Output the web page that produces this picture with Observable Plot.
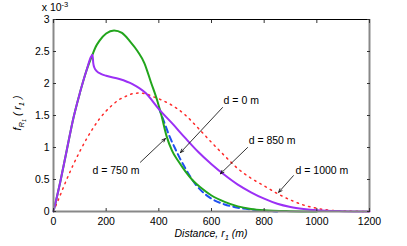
<!DOCTYPE html>
<html><head><meta charset="utf-8">
<script src="https://cdn.jsdelivr.net/npm/d3@7"></script>
<script src="https://cdn.jsdelivr.net/npm/@observablehq/plot@0.6"></script>
<style>body{margin:0;background:#fff}#chart{width:407px;height:246px}</style>
</head><body><div id="chart"></div>
<script>
// values in units of 1e-3
const rD850 = [0,25,50,75,100,125,148,151,155,165,180,200,250,300,350,400,450,500,550,600,650,700,750,800,850,900,950,1000,1100,1200];
const fD850 = [0,0.45,0.95,1.45,1.85,2.2,2.45,2.32,2.25,2.19,2.15,2.12,2.07,1.99,1.85,1.6,1.38,1.15,0.93,0.74,0.57,0.42,0.3,0.2,0.12,0.07,0.04,0.02,0.005,0];
const rD750 = [0,25,50,75,100,125,148,160,175,200,230,260,290,320,345,370,395,410,430,450,475,500,530,560,600,650,700,750,800,900,1000];
const fD750 = [0,0.45,0.95,1.45,1.85,2.2,2.45,2.57,2.67,2.78,2.83,2.79,2.66,2.5,2.32,2.02,1.72,1.5,1.17,0.95,0.78,0.63,0.48,0.37,0.25,0.15,0.08,0.04,0.02,0.005,0];
const rD0 = [400,420,440,460,480,500,520,540,560,600,650,700,750,800,850];
const fD0 = [1.62,1.4,1.18,1.0,0.83,0.68,0.54,0.42,0.33,0.2,0.11,0.06,0.03,0.01,0];
const rD1000 = [0,25,50,75,100,125,150,175,200,225,250,275,300,325,350,375,400,450,500,550,600,650,700,750,800,850,900,950,1000,1050,1100,1150,1200];
const fD1000 = [0,0.25,0.5,0.73,0.94,1.13,1.3,1.45,1.57,1.67,1.75,1.8,1.84,1.85,1.84,1.8,1.76,1.66,1.51,1.3,1.08,0.87,0.67,0.52,0.4,0.28,0.18,0.1,0.05,0.02,0.01,0.003,0];

const xTicks = [0,200,400,600,800,1000,1200];
const yTicks = [0,0.5,1,1.5,2,2.5,3];

const annLabels = ["d = 0 m","d = 750 m","d = 850 m","d = 1000 m"];
const annTextX = [646,148,741,919];
const annTextY = [1.73,0.64,1.11,0.64];
const annFromX = [642,330,737,911];
const annFromY = [1.625,0.77,1.0,0.56];
const annToX = [482,425,634,855];
const annToY = [0.92,1.14,0.59,0.30];

const toRows = (rs, fs) => rs.map((r, i) => ({r, f: fs[i]}));
const d850 = toRows(rD850, fD850), d750 = toRows(rD750, fD750), d0 = toRows(rD0, fD0), d1000 = toRows(rD1000, fD1000);
const ann = annLabels.map((t, i) => ({t, tx: annTextX[i], ty: annTextY[i], x1: annFromX[i], y1: annFromY[i], x2: annToX[i], y2: annToY[i]}));

const fmt = d => String(d);
const plot = Plot.plot({
  width: 407, height: 246,
  marginLeft: 53, marginRight: 38, marginTop: 19, marginBottom: 35,
  style: {fontFamily: "'Liberation Sans', Arial, sans-serif", fontSize: "10.5px", background: "#fff", color: "#000"},
  x: {domain: [0, 1200]},
  y: {domain: [0, 3]},
  marks: [
    Plot.line(d1000, {x: "r", y: "f", stroke: "#ff2a2a", strokeWidth: 1.5, strokeDasharray: "1.5,4.5", curve: "monotone-x"}),
    Plot.line(d0, {x: "r", y: "f", stroke: "#2050f0", strokeWidth: 2, strokeDasharray: "6,4", curve: "monotone-x"}),
    Plot.line(d750, {x: "r", y: "f", stroke: "#22a51c", strokeWidth: 2, curve: "monotone-x"}),
    Plot.line(d850, {x: "r", y: "f", stroke: "#9b30f5", strokeWidth: 2, curve: "monotone-x"}),
    Plot.ruleY([0], {stroke: "#888", strokeWidth: 2}),
    Plot.ruleX([0], {stroke: "#888", strokeWidth: 2}),
    Plot.ruleX([1200], {stroke: "#888", strokeWidth: 2}),
    Plot.ruleY([3], {stroke: "#000", strokeWidth: 1}),
    Plot.axisX(xTicks, {anchor: "bottom", tickSize: 3, dy: -3, tickFormat: () => "", label: null, stroke: "#333"}),
    Plot.axisX(xTicks, {anchor: "top", tickSize: 3, dy: 3, tickFormat: () => "", label: null, stroke: "#333"}),
    Plot.axisY(yTicks, {anchor: "left", tickSize: 3, dx: 3, tickFormat: () => "", label: null, stroke: "#333"}),
    Plot.axisY(yTicks, {anchor: "right", tickSize: 3, dx: -3, tickFormat: () => "", label: null, stroke: "#333"}),
    Plot.axisX(xTicks, {anchor: "bottom", tickSize: 0, tickPadding: 6, tickFormat: fmt, label: null, fill: "#000"}),
    Plot.axisY(yTicks, {anchor: "left", tickSize: 0, tickPadding: 4, tickFormat: fmt, label: null, fill: "#000"}),
    Plot.arrow(ann, {x1: "x1", y1: "y1", x2: "x2", y2: "y2", stroke: "#000", strokeWidth: 0.8, headLength: 7, headAngle: 45}),
    Plot.text(ann, {x: "tx", y: "ty", text: "t", textAnchor: "start", fill: "#000", fontSize: 10.5})
  ]
});
document.getElementById("chart").appendChild(plot);

const svg = d3.select(plot);
const ff = "'Liberation Sans', Arial, sans-serif";
// multiplier
const mt = svg.append("text").attr("x", 55).attr("y", 11).attr("font-family", ff).attr("font-size", 10.5).attr("fill", "#000");
mt.append("tspan").text("x 10");
mt.append("tspan").attr("font-size", 7.5).attr("dy", -4).text("-3");
// x label
const xl = svg.append("text").attr("x", 211).attr("y", 237).attr("text-anchor", "middle").attr("font-family", ff).attr("font-size", 10.5).attr("font-style", "italic").attr("fill", "#000");
xl.append("tspan").text("Distance, r");
xl.append("tspan").attr("font-size", 7.5).attr("dy", 3).text("1");
xl.append("tspan").attr("dy", -3).text(" (m)");
// y label
const yl = svg.append("text").attr("transform", "translate(21,113) rotate(-90)").attr("text-anchor", "middle").attr("font-family", ff).attr("font-size", 10.5).attr("font-style", "italic").attr("fill", "#000");
yl.append("tspan").text("f");
yl.append("tspan").attr("font-size", 7.5).attr("dy", 3).text("R");
yl.append("tspan").attr("font-size", 5.5).attr("dy", 2).text("1");
yl.append("tspan").attr("dy", -5).text(" ( r");
yl.append("tspan").attr("font-size", 7.5).attr("dy", 3).text("1");
yl.append("tspan").attr("dy", -3).text(" )");
</script></body></html>
